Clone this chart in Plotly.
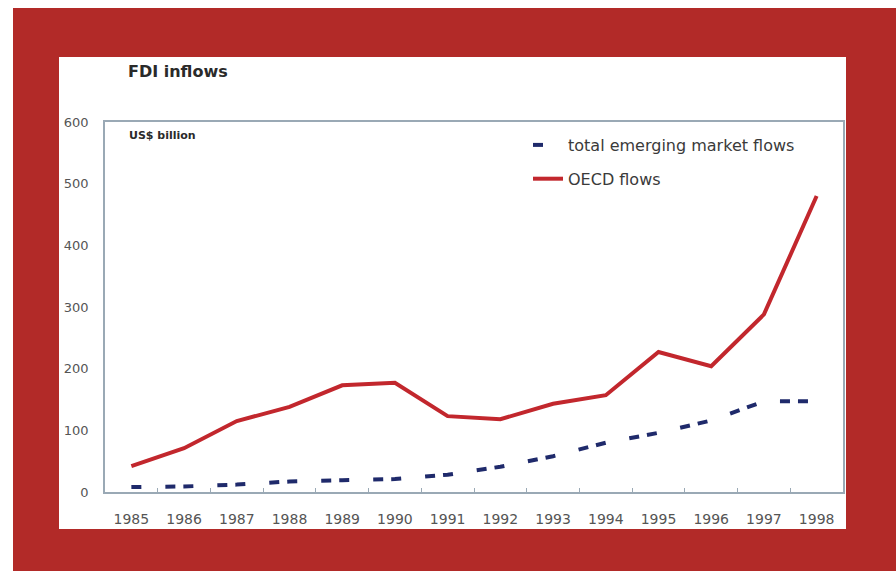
import plotly.graph_objects as go

years = ["1985", "1986", "1987", "1988", "1989", "1990", "1991", "1992",
         "1993", "1994", "1995", "1996", "1997", "1998"]
emerging = [8, 9, 12, 17, 19, 21, 28, 41, 58, 80, 96, 116, 147, 147]
oecd = [42, 71, 115, 138, 173, 177, 123, 118, 143, 157, 227, 204, 288, 480]
y_ticks = [0, 100, 200, 300, 400, 500, 600]

W, H = 896, 571
L, R, T, B = 105, 53, 122, 79
pw, ph = W - L - R, H - T - B


def px(x):
    return (x - L) / pw


def py(y):
    return (H - B - y) / ph


FONT = "DejaVu Sans"

fig = go.Figure()
fig.add_trace(go.Scatter(
    x=years, y=emerging, mode="lines", name="total emerging market flows",
    line=dict(color="#1F2A6B", width=4, dash="10px,24px,10px,8px"),
    legendgroup="a"))
fig.add_trace(go.Scatter(
    x=years, y=oecd, mode="lines", name="OECD flows",
    line=dict(color="#C2272D", width=4), legendgroup="b"))

shapes = [
    dict(type="rect", xref="paper", yref="paper", x0=px(13), x1=px(896),
         y0=py(8), y1=py(571), fillcolor="#B22A28", line=dict(width=0),
         layer="below"),
    dict(type="rect", xref="paper", yref="paper", x0=px(59), x1=px(846),
         y0=py(57), y1=py(529), fillcolor="white", line=dict(width=0),
         layer="below"),
]

annotations = [
    dict(text="<b>FDI inflows</b>", xref="paper", yref="paper",
         x=px(126), y=py(71), xanchor="left", yanchor="middle",
         showarrow=False, font=dict(family=FONT, size=16, color="#2a2a2a")),
    dict(text="<b>US$ billion</b>", xref="paper", yref="paper",
         x=px(127), y=py(135), xanchor="left", yanchor="middle",
         showarrow=False, font=dict(family=FONT, size=11, color="#2a2a2a")),
]

fig.update_layout(
    width=W, height=H,
    margin=dict(l=L, r=R, t=T, b=B, pad=0),
    paper_bgcolor="white", plot_bgcolor="white",
    shapes=shapes, annotations=annotations,
    showlegend=True,
    legend=dict(x=px(528), y=py(128), xanchor="left", yanchor="top",
                bgcolor="rgba(0,0,0,0)", tracegroupgap=10,
                font=dict(family=FONT, size=16, color="#3a3a3a")),
    xaxis=dict(type="category", range=[-0.5, 13.5], showgrid=False,
               showline=True, linecolor="#9AA9B5", linewidth=1.5, mirror=True,
               ticks="inside", tickson="boundaries", ticklen=4,
               tickcolor="#9AA9B5", ticklabelstandoff=13,
               tickfont=dict(family=FONT, size=14, color="#555555"),
               fixedrange=True),
    yaxis=dict(range=[0, 600], tickvals=y_ticks, showgrid=False,
               zeroline=False, showline=True, linecolor="#9AA9B5",
               linewidth=1.5, mirror=True, ticks="", ticklabelstandoff=12,
               tickfont=dict(family=FONT, size=13, color="#555555"),
               fixedrange=True),
)

fig.write_html(
    "out.html",
    config={"displayModeBar": False},
    post_script="document.body.style.margin='0';document.body.style.overflow='hidden';",
)
